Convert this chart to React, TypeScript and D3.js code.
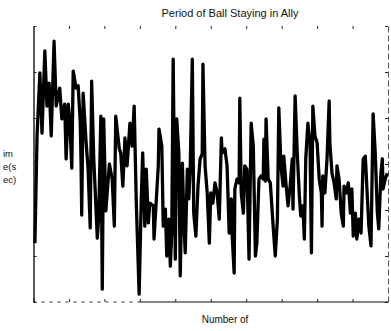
import React, { useEffect, useRef } from 'react';
import * as d3 from 'd3';

// event number (x) and time in seconds (y)
const eventNo = [
  2, 5, 9, 12, 16, 19, 22, 25, 29, 32, 37, 40, 44, 46, 49, 51, 54, 56, 60, 63,
  66, 67, 68, 70, 74, 77, 80, 82, 85, 90, 92, 95, 97, 99, 102, 107, 111, 114, 116, 121,
  123, 126, 129, 132, 136, 139, 142, 145, 149, 152, 154, 157, 159, 162, 164, 169, 170, 176, 177, 181,
  183, 186, 188, 191, 193, 195, 197, 200, 202, 205, 207, 210, 212, 214, 217, 219, 221, 224, 226, 229,
  232, 235, 238, 239, 242, 245, 248, 250, 253, 256, 259, 262, 265, 266, 270, 273, 276, 279, 280, 283,
  284, 287, 290, 291, 293, 296, 298, 301, 304, 307, 310, 313, 315, 318, 321, 324, 325, 327, 328, 331,
  334, 338, 341, 344, 346, 349, 352, 353, 356, 359, 362, 365, 366, 369, 372, 375, 377, 380, 382, 384,
  387, 390, 392, 394, 397, 400, 403, 406, 407, 408, 411, 414, 417, 418, 421, 424, 427, 428, 431, 434,
  437, 438, 441, 444, 447, 449, 451, 454, 456, 459, 462, 465, 468, 471, 473, 476, 479, 482, 485, 487,
  490, 492, 493, 496, 499,
];
const timeSec = [
  1.28, 3.61, 4.98, 3.67, 5.46, 4.26, 4.76, 3.61, 5.67, 4.26, 4.65, 3.98, 4.30, 3.11, 4.30, 3.98, 2.91, 5.02, 4.65, 4.70,
  3.89, 3.09, 1.89, 4.54, 3.52, 2.89, 1.61, 4.80, 3.11, 1.39, 1.87, 4.04, 0.28, 3.98, 1.98, 3.00, 2.67, 1.65, 4.04, 3.33,
  3.24, 2.52, 3.57, 2.96, 3.89, 3.39, 4.26, 2.15, 0.17, 2.24, 3.24, 1.65, 2.89, 1.72, 2.15, 2.09, 1.37, 2.96, 3.76, 3.39,
  1.65, 2.02, 1.00, 1.80, 0.78, 1.50, 5.28, 0.93, 3.98, 3.24, 0.57, 3.02, 1.80, 1.07, 2.89, 2.24, 2.89, 5.28, 1.93, 1.43,
  2.52, 3.11, 3.22, 5.17, 2.96, 2.37, 1.28, 2.37, 2.15, 2.59, 2.37, 1.80, 3.57, 3.24, 3.33, 2.96, 1.50, 2.24, 1.50, 0.63,
  2.46, 2.67, 2.59, 4.43, 2.37, 1.93, 2.96, 2.89, 0.93, 3.89, 3.39, 1.00, 1.28, 2.67, 2.74, 2.67, 3.54, 2.63, 3.98, 2.67,
  2.59, 1.65, 1.00, 1.80, 4.22, 2.96, 2.52, 3.17, 2.59, 2.09, 2.52, 3.11, 2.02, 4.48, 3.24, 2.30, 1.87, 2.09, 1.37, 3.11,
  3.89, 3.46, 1.07, 4.26, 3.61, 3.46, 2.67, 2.37, 1.65, 2.74, 2.37, 3.11, 4.37, 3.46, 2.80, 2.59, 2.24, 2.96, 2.67, 1.93,
  1.65, 2.52, 2.37, 2.59, 1.93, 2.46, 1.43, 1.93, 1.37, 1.80, 1.50, 3.11, 3.17, 2.24, 1.65, 1.22, 4.09, 3.24, 1.93, 1.59,
  2.80, 3.11, 2.46, 2.67, 2.80,
];
const yLabelLines = ['im', 'e(s', 'ec)'];

const W = 391;
const H = 331;
const margin = { top: 26, right: 3, bottom: 29, left: 33.5 };

const App = () => {
  const axRef = useRef<SVGGElement>(null);

  const x = d3.scaleLinear().domain([0, 500]).range([margin.left, W - margin.right]);
  const y = d3.scaleLinear().domain([0, 6]).range([H - margin.bottom, margin.top]);
  const pts: [number, number][] = eventNo.map((d, i) => [d, timeSec[i]]);
  const line = d3.line<[number, number]>().x(d => x(d[0])).y(d => y(d[1]));

  useEffect(() => {
    const g = d3.select(axRef.current);
    g.selectAll('*').remove();
    const blank = () => '';

    const bottom = g.append('g')
      .attr('transform', `translate(0,${y(0)})`)
      .call(d3.axisBottom(x).ticks(10).tickSize(-3).tickSizeOuter(0).tickFormat(blank));
    bottom.select('.domain').remove();

    const top = g.append('g')
      .attr('transform', `translate(0,${y(6)})`)
      .call(d3.axisTop(x).ticks(10).tickSize(-3).tickSizeOuter(0).tickFormat(blank));
    top.select('.domain').remove();
    top.selectAll('.tick').filter((d: any) => d === 0 || d === 500).remove();

    const left = g.append('g')
      .attr('transform', `translate(${x(0)},0)`)
      .call(d3.axisLeft(y).ticks(6).tickSize(-3).tickSizeOuter(0).tickFormat(blank));
    left.select('.domain').attr('stroke-width', 1.3);

    const right = g.append('g')
      .attr('transform', `translate(${x(500)},0)`)
      .call(d3.axisRight(y).ticks(6).tickSize(-3).tickSizeOuter(0).tickFormat(blank));
    right.select('.domain').attr('stroke', '#555').attr('stroke-dasharray', '6 3');

    // bottom frame: broken on the left part of the scan, solid afterwards
    g.append('line')
      .attr('x1', x(0)).attr('x2', x(150))
      .attr('y1', y(0)).attr('y2', y(0))
      .attr('stroke', '#333').attr('stroke-dasharray', '3 5');
    g.append('line')
      .attr('x1', x(150)).attr('x2', x(500))
      .attr('y1', y(0)).attr('y2', y(0))
      .attr('stroke', '#111').attr('stroke-width', 1.2);

    g.selectAll('.tick line').attr('stroke', '#222');
  }, []);

  return (
    <svg width={W} height={H} style={{ position: 'absolute', left: 0, top: 0, background: '#fff' }}
      fontFamily="'Liberation Sans', Arial, sans-serif">
      <path d={line(pts) ?? ''} fill="none" stroke="#000" strokeWidth={3.3} strokeLinejoin="round" />
      <g ref={axRef} />
      <text x={230} y={17} textAnchor="middle" fontSize={11} fill="#111">
        Period of Ball Staying in Ally
      </text>
      <text x={225} y={323} textAnchor="middle" fontSize={10} fill="#111">
        Number  of
      </text>
      {yLabelLines.map((t, i) => (
        <text key={t} x={3} y={157 + i * 13} fontSize={9.5} fill="#111">{t}</text>
      ))}
    </svg>
  );
};

export default App;
